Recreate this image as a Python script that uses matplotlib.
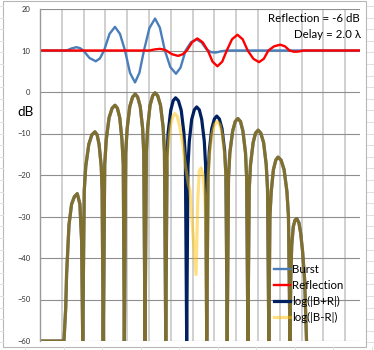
import matplotlib
matplotlib.use("Agg")
import matplotlib.pyplot as plt
from matplotlib.patches import Rectangle
from matplotlib.lines import Line2D

plt.rcParams['font.family'] = ['Lato', 'DejaVu Sans']

# x is measured in gridline units (one vertical gridline per unit)
burst_x = [0, 1.22, 1.45, 1.68, 1.84, 1.99, 2.27, 2.56, 2.75, 2.94, 3.19, 3.44, 3.67, 3.90,
           4.13, 4.36, 4.56, 4.77, 5.02, 5.28, 5.50, 5.73, 5.98, 6.24, 6.45, 6.68, 6.93,
           7.19, 7.42, 7.65, 7.86, 8.06, 8.30, 8.60, 14.66]
burst_y = [10, 10, 10.5, 10.8, 10.55, 10, 8.2, 7.4, 8.1, 10, 14.0, 15.7, 14.0, 10,
           4.6, 2.3, 4.6, 10, 15.4, 17.7, 15.5, 10, 6.0, 4.4, 5.9, 10, 12.0,
           12.7, 11.9, 10.2, 9.6, 9.5, 9.8, 10, 10]

refl_x = [0, 5.02, 5.25, 5.50, 5.65, 5.79, 6.06, 6.34, 6.55, 6.74, 6.98, 7.22, 7.46, 7.70,
          7.92, 8.14, 8.36, 8.57, 8.81, 9.06, 9.30, 9.53, 9.79, 10.05, 10.27, 10.48,
          10.74, 11.02, 11.24, 11.45, 11.66, 11.86, 12.10, 14.66]
refl_y = [10, 10, 10.25, 10.4, 10.25, 10, 9.1, 8.7, 9.1, 10, 12.0, 12.9, 12.0, 10,
          7.3, 6.2, 7.3, 10, 12.7, 13.8, 12.7, 10, 8.0, 7.2, 8.0, 10,
          11.0, 11.4, 11.0, 10, 9.7, 9.75, 10, 10]

# dB lobes shared by both log curves (before the reflection arrives)
lead_x = [0, 1.10, 1.18, 1.22, 1.33, 1.45, 1.58, 1.71, 1.83, 1.91, 1.96,
          2.03, 2.10, 2.24, 2.38, 2.52, 2.62, 2.71, 2.81, 2.85, 2.90,
          2.97, 3.04, 3.17, 3.31, 3.44, 3.55, 3.66, 3.76, 3.82, 3.87,
          3.93, 4.00, 4.12, 4.25, 4.37, 4.48, 4.60, 4.71, 4.76, 4.82,
          4.88, 4.94, 5.05, 5.17, 5.28, 5.40, 5.53, 5.65, 5.71, 5.77]
lead_db = [-60, -60, -52, -44, -32, -27, -25.2, -24.5, -27, -36, -60,
           -23.8, -17.9, -12.6, -10.3, -9.6, -10.3, -12.6, -17.9, -23.8, -60,
           -17.4, -11.5, -6.2, -3.9, -3.2, -3.9, -6.2, -11.5, -17.4, -60,
           -14.7, -8.8, -3.5, -1.2, -0.5, -1.2, -3.5, -8.8, -14.7, -60,
           -14.4, -8.5, -3.2, -0.9, -0.2, -0.9, -3.2, -8.5, -14.4, -60]

# overlap region, B+R
sum_x = [5.83, 5.88, 6.00, 6.11, 6.22, 6.35, 6.48, 6.60, 6.67, 6.73,
         6.79, 6.85, 6.96, 7.08, 7.19, 7.31, 7.42, 7.54, 7.60, 7.65,
         7.71, 7.77, 7.88, 8.00, 8.11, 8.23, 8.35, 8.47, 8.53, 8.59]
sum_db = [-15.6, -9.7, -4.4, -2.1, -1.4, -2.1, -4.4, -9.7, -15.6, -60,
          -17.8, -11.9, -6.6, -4.3, -3.6, -4.3, -6.6, -11.9, -17.8, -60,
          -20.0, -14.1, -8.8, -6.5, -5.8, -6.5, -8.8, -14.1, -20.0, -60]

# overlap region, B-R
diff_x = [5.82, 5.87, 5.98, 6.09, 6.19, 6.30, 6.42, 6.55, 6.65, 6.80, 6.88, 7.03, 7.16,
          7.24, 7.31, 7.39, 7.48, 7.56, 7.61, 7.65,
          7.71, 7.77, 7.89, 8.01, 8.13, 8.25, 8.36, 8.48, 8.54, 8.59]
diff_db = [-19.4, -13.5, -8.2, -5.9, -5.2, -5.9, -8.5, -12.5, -17, -22, -23.7, -35, -44,
           -26, -19, -18.3, -20, -25, -32, -60,
           -21.3, -15.4, -10.1, -7.8, -7.1, -7.8, -10.1, -15.4, -21.3, -60]

# dB lobes shared by both log curves (reflection tail)
tail_x = [8.65, 8.71, 8.84, 8.96, 9.08, 9.20, 9.31, 9.43, 9.48, 9.54,
          9.60, 9.66, 9.78, 9.89, 10.01, 10.13, 10.26, 10.38, 10.44, 10.50,
          10.55, 10.61, 10.71, 10.82, 10.92, 11.06, 11.20, 11.33, 11.40, 11.47,
          11.51, 11.55, 11.62, 11.70, 11.78, 11.88, 11.96, 12.05, 12.14, 12.23]
tail_db = [-20.6, -14.7, -9.4, -7.1, -6.4, -7.1, -9.4, -14.7, -20.6, -60,
           -23.4, -17.5, -12.2, -9.9, -9.2, -9.9, -12.2, -17.5, -23.4, -60,
           -29.9, -24.0, -18.7, -16.4, -15.7, -16.4, -18.7, -24.0, -29.9, -60,
           -44, -37, -32.5, -30.9, -30.5, -31.5, -34, -38.5, -45, -60]

yticks = [-60, -50, -40, -30, -20, -10, 0, 10, 20]
labels = ["Burst", "Reflection", "log(|B+R|)", "log(|B-R|)"]

W, H = 374, 350
fig = plt.figure(figsize=(W / 100, H / 100), dpi=100)
fig.patch.set_facecolor("white")

# faint spreadsheet cells around the chart
cell = "#dde0e4"
for k in range(31):
    yy = 1 - (6 + 11.6 * k) / H
    fig.add_artist(Line2D([367 / W, 1], [yy, yy], color=cell, lw=0.7))
    fig.add_artist(Line2D([0, 3 / W], [yy, yy], color=cell, lw=0.7))
for k in range(10):
    xx = (25 + 38.5 * k) / W
    fig.add_artist(Line2D([xx, xx], [0, 3 / H], color=cell, lw=0.7))

# chart area border
fig.add_artist(Rectangle((3 / W, 3 / H), 363 / W, 346 / H, transform=fig.transFigure,
                         fill=False, edgecolor="#b7b7b7", linewidth=0.8))

ax = fig.add_axes([40 / W, 9 / H, 319.5 / W, 332 / H])
ax.set_xlim(0, 14.66)
ax.set_ylim(-60, 20)
ax.set_xticks(range(0, 15))
ax.set_yticks(yticks)
ax.set_xticklabels([])
ax.tick_params(axis="both", length=0)
ax.tick_params(axis="y", pad=7, labelsize=5.5, labelcolor="#333333")
for s in ["top", "right", "bottom"]:
    ax.spines[s].set_visible(False)
ax.spines["left"].set_color("#9a9a9a")
ax.spines["left"].set_linewidth(1.0)
ax.grid(axis="x", color="#c4c4c4", linewidth=1.1)
ax.grid(axis="y", color="#8f8f8f", linewidth=0.8)
ax.set_axisbelow(True)

l1, = ax.plot(burst_x, burst_y, color="#4a7ebb", lw=1.7, label=labels[0])
l2, = ax.plot(refl_x, refl_y, color="#ff0000", lw=1.7, label=labels[1])
l3, = ax.plot(lead_x + sum_x + tail_x, lead_db + sum_db + tail_db,
              color="#002060", lw=2.3, label=labels[2])
l4, = ax.plot(lead_x + diff_x + tail_x, lead_db + diff_db + tail_db,
              color="#ffc000", lw=2.3, alpha=0.5, label=labels[3])

fig.text(26 / W, 1 - 112 / H, "dB", ha="center", va="center", fontsize=9.7, color="black")
fig.text(360 / W, 1 - 18 / H, "Reflection = -6 dB", ha="right", va="center", fontsize=8.3)
fig.text(361 / W, 1 - 35 / H, "Delay = 2.0 \u03bb", ha="right", va="center", fontsize=8.3)

ax.legend(handles=[l1, l2, l3, l4], loc="upper left", bbox_to_anchor=(274 / W, 1 - 264 / H),
          bbox_transform=fig.transFigure, frameon=False, fontsize=8.2, borderpad=0,
          borderaxespad=0, handlelength=1.4, handletextpad=0.15, labelspacing=0.45)

fig.savefig("out.png", dpi=100)
